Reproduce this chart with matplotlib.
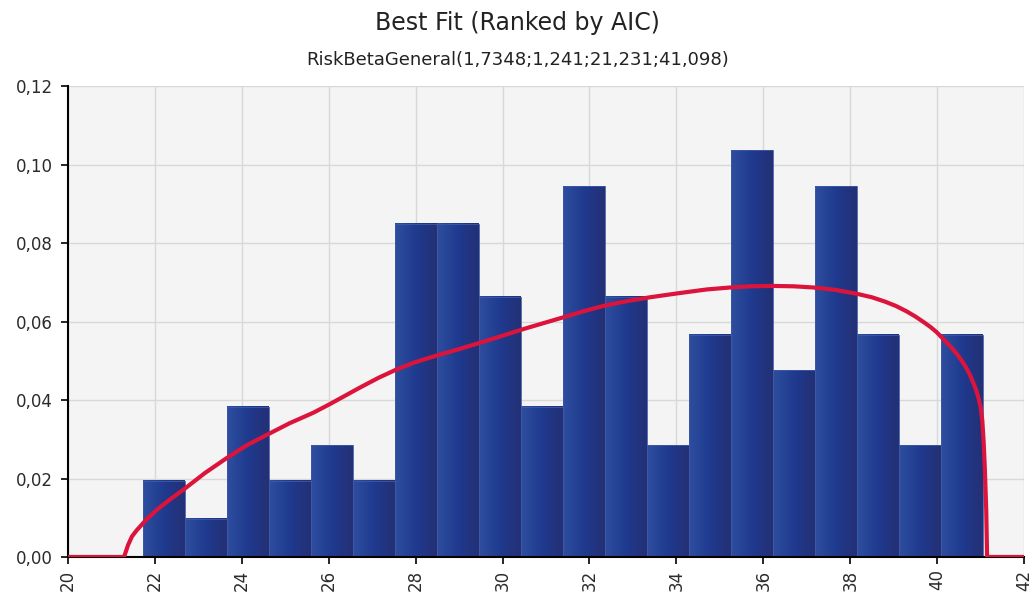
import numpy as np
import matplotlib
matplotlib.use('Agg')
import matplotlib.pyplot as plt
from matplotlib.colors import LinearSegmentedColormap
from matplotlib.ticker import FuncFormatter

# histogram (density), 20 bins starting at 21.73
bin_start = 21.73
bin_width = 0.966
heights = [0.0194, 0.0097, 0.0383, 0.0194, 0.0285, 0.0194, 0.0850, 0.0850, 0.0663, 0.0383,
           0.0945, 0.0663, 0.0285, 0.0567, 0.1037, 0.0476, 0.0945, 0.0567, 0.0285, 0.0567]

# fitted RiskBetaGeneral curve
curve_x = [20.0, 21.29, 21.38, 21.47, 21.58, 21.8, 22.04, 22.35, 22.65, 23.15, 23.65, 24.1, 24.57,
           25.1, 25.65, 26.03, 26.72, 27.15, 27.56, 28.0, 28.5, 29.0, 29.48, 30.0, 30.48, 31.0, 31.4,
           31.85, 32.32, 32.85, 33.39, 34.09, 34.7, 35.24, 35.7, 36.2, 36.7, 37.15, 37.65, 38.15,
           38.5, 38.8, 39.05, 39.3, 39.5, 39.7, 39.85, 39.99, 40.12, 40.25, 40.35, 40.45, 40.55,
           40.65, 40.75, 40.84, 40.9, 40.95, 41.0, 41.04, 41.07, 41.1, 41.13, 41.15, 42.0]
curve_y = [0.0, 0.0, 0.0030, 0.0052, 0.0068, 0.0095, 0.0120, 0.0147, 0.0171, 0.0214, 0.0252, 0.0284,
           0.0311, 0.0341, 0.0368, 0.0390, 0.0432, 0.0457, 0.0478, 0.0497, 0.0514, 0.0530, 0.0546,
           0.0564, 0.0581, 0.0598, 0.0611, 0.0626, 0.0640, 0.0652, 0.0662, 0.0673, 0.0682, 0.0687,
           0.0690, 0.0691, 0.0690, 0.0687, 0.0681, 0.0671, 0.0662, 0.0651, 0.0640, 0.0626, 0.0613,
           0.0598, 0.0586, 0.0573, 0.0558, 0.0543, 0.0531, 0.0518, 0.0503, 0.0486, 0.0466, 0.0442,
           0.0425, 0.0406, 0.0383, 0.0348, 0.0295, 0.0220, 0.0120, 0.0, 0.0]

fig = plt.figure(figsize=(10.35, 6.03), dpi=100)
ax = fig.add_axes([0.0657, 0.0763, 0.9237, 0.7807])
ax.set_facecolor('#f4f4f4')

cm = LinearSegmentedColormap.from_list('bar', ['#2e4e9e', '#1f3a8f', '#243075'])
grad = np.linspace(0, 1, 64).reshape(1, -1)
for i, h in enumerate(heights):
    left = bin_start + i * bin_width
    ax.imshow(grad, extent=[left, left + bin_width, 0, h], aspect='auto', cmap=cm,
              zorder=2, interpolation='bilinear')
    ax.add_patch(plt.Rectangle((left, 0), bin_width, h, fill=False,
                               edgecolor='#3c5aa8', linewidth=0.6, zorder=2.1))

ax.plot(curve_x, curve_y, color='#dc143c', linewidth=3.0, zorder=3,
        solid_joinstyle='round', solid_capstyle='butt')

ax.set_xlim(20, 42)
ax.set_ylim(0, 0.12)
ax.set_xticks(np.arange(20, 43, 2))
ax.set_yticks(np.arange(0, 0.121, 0.02))
ax.yaxis.set_major_formatter(FuncFormatter(lambda v, p: ('%.2f' % v).replace('.', ',')))
ax.grid(True, color='#d8d8d8', linewidth=1.0)
ax.set_axisbelow(True)
for s in ['top', 'right']:
    ax.spines[s].set_visible(False)
ax.spines['left'].set_linewidth(1.5)
ax.spines['bottom'].set_linewidth(1.5)
ax.tick_params(axis='both', direction='out', length=5, width=1.2, labelsize=12, colors='black')
ax.tick_params(axis='y', labelcolor='#2b2b2b', pad=6)
ax.tick_params(axis='x', labelrotation=90, labelcolor='#2b2b2b', pad=4)

fig.text(0.5, 0.962, 'Best Fit (Ranked by AIC)', ha='center', va='center', fontsize=17, color='#222222')
fig.text(0.5, 0.900, 'RiskBetaGeneral(1,7348;1,241;21,231;41,098)', ha='center', va='center',
         fontsize=13, color='#222222')

fig.savefig('out.png', dpi=100)
